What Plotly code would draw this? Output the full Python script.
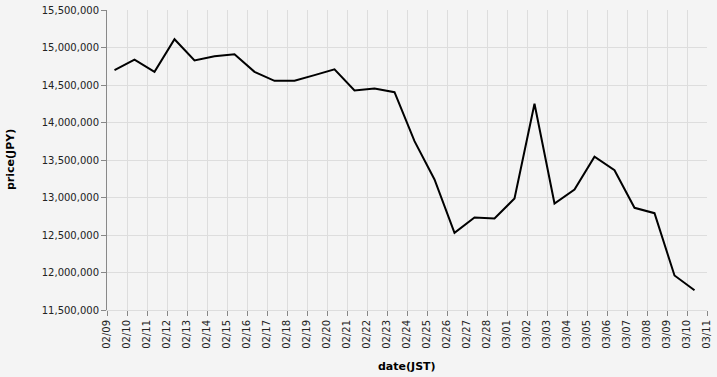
import plotly.graph_objects as go

dates = [
    "2025-02-09", "2025-02-10", "2025-02-11", "2025-02-12", "2025-02-13",
    "2025-02-14", "2025-02-15", "2025-02-16", "2025-02-17", "2025-02-18",
    "2025-02-19", "2025-02-20", "2025-02-21", "2025-02-22", "2025-02-23",
    "2025-02-24", "2025-02-25", "2025-02-26", "2025-02-27", "2025-02-28",
    "2025-03-01", "2025-03-02", "2025-03-03", "2025-03-04", "2025-03-05",
    "2025-03-06", "2025-03-07", "2025-03-08", "2025-03-09", "2025-03-10",
]
times = [d + " 09:00" for d in dates]

prices = [
    14697000, 14838000, 14676000, 15110000, 14827000,
    14884000, 14911000, 14676000, 14556000, 14556000,
    14632000, 14709000, 14427000, 14453000, 14404000,
    13751000, 13240000, 12529000, 12733000, 12720000,
    12987000, 14250000, 12920000, 13107000, 13543000,
    13364000, 12863000, 12791000, 11960000, 11764000,
]

font_family = "DejaVu Sans"
bg = "#f4f4f4"

fig = go.Figure(
    go.Scatter(
        x=times,
        y=prices,
        mode="lines",
        line=dict(color="#000000", width=2),
        hoverinfo="skip",
    )
)

fig.update_layout(
    width=717,
    height=377,
    margin=dict(l=107, r=10, t=10, b=67, autoexpand=False),
    paper_bgcolor=bg,
    plot_bgcolor=bg,
    showlegend=False,
    font=dict(family=font_family, size=10, color="#222"),
    xaxis=dict(
        type="date",
        range=["2025-02-09", "2025-03-11"],
        dtick=86400000,
        tick0="2025-02-09",
        tickformat="%m/%d",
        tickangle=-90,
        ticks="outside",
        ticklen=5,
        tickcolor="#888",
        showgrid=True,
        gridcolor="#dddddd",
        gridwidth=1,
        showline=True,
        linecolor="#dddddd",
        linewidth=1,
        mirror=False,
        zeroline=False,
        automargin=False,
        tickfont=dict(family=font_family, size=10, color="#222"),
        fixedrange=True,
    ),
    yaxis=dict(
        range=[11500000, 15500000],
        dtick=500000,
        tick0=11500000,
        tickformat=",d",
        ticks="outside",
        ticklen=5,
        tickcolor="#888",
        showgrid=True,
        gridcolor="#dddddd",
        gridwidth=1,
        showline=True,
        linecolor="#888888",
        linewidth=1,
        zeroline=False,
        automargin=False,
        tickfont=dict(family=font_family, size=10, color="#222"),
        fixedrange=True,
    ),
    annotations=[
        dict(
            text="<b>date(JST)</b>",
            xref="paper", yref="paper",
            x=0.5, y=-56 / 300, xanchor="center", yanchor="middle",
            showarrow=False,
            font=dict(family=font_family, size=11, color="#000"),
        ),
        dict(
            text="<b>price(JPY)</b>",
            xref="paper", yref="paper",
            x=-97 / 600, y=0.5, xanchor="center", yanchor="middle",
            textangle=-90,
            showarrow=False,
            font=dict(family=font_family, size=11, color="#000"),
        ),
    ],
)

fig.write_html("out.html")
